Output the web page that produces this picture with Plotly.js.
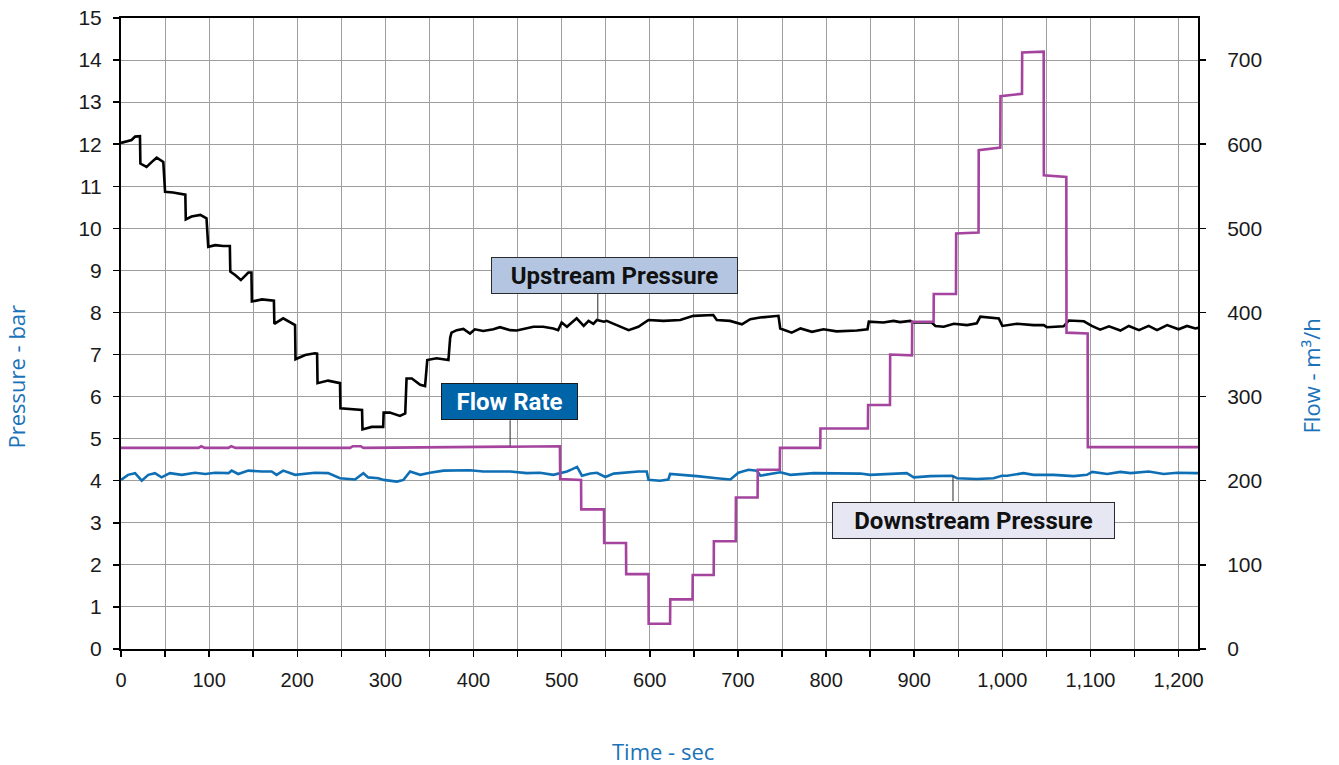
<!DOCTYPE html>
<html>
<head>
<meta charset="utf-8">
<script src="https://cdn.plot.ly/plotly-3.0.1.min.js"></script>
<style>
  html, body { margin: 0; padding: 0; background: #ffffff; }
  #chart { width: 1339px; height: 765px; }
</style>
</head>
<body>
<div id="chart"></div>
<script>
// Upstream pressure (bar) against time (s)
const upTime = [
  0, 6, 12, 16, 21.5, 22, 29, 35, 40.5, 48,
  50, 59, 67, 73, 73.5, 80, 90, 97, 99, 107,
  116, 123.5, 124, 129.5, 136, 144.5, 148, 148.5, 160, 171,
  173.5, 174, 184, 197.5, 198, 209, 220, 222.5, 223, 235,
  246.5, 248.5, 249, 262, 273.5, 274, 284.5, 297.5, 298, 305,
  316.5, 322.5, 324, 330, 339.5, 345, 347.5, 358, 371.5, 373.5,
  375, 381, 388.5, 396, 401.5, 411, 422.5, 430, 441.5, 449,
  460.5, 468, 479, 490.5, 496, 500, 506, 517, 525, 530.5,
  536, 540, 548, 551, 562.5, 576, 587, 598.5, 615.5, 634.5,
  649.5, 665, 672, 676, 691, 704.5, 714, 725, 736.5, 746,
  748, 761, 771, 784, 797, 812, 835, 847, 848.5, 865,
  876.5, 884, 895.5, 899.5, 920, 924, 933.5, 945, 960, 971,
  975, 986.5, 996, 1000, 1016.5, 1035.5, 1047, 1050.5, 1069.5, 1075.5,
  1092.5, 1101.5, 1111, 1121, 1134, 1143.5, 1155, 1166, 1175.5, 1187,
  1200, 1209.5, 1219, 1224
];
const upPressure = [
  12.03, 12.06, 12.10, 12.18, 12.19, 11.54, 11.46, 11.58, 11.68, 11.58,
  10.87, 10.85, 10.82, 10.80, 10.21, 10.28, 10.32, 10.24, 9.56, 9.60,
  9.58, 9.58, 8.97, 8.89, 8.77, 8.95, 8.95, 8.26, 8.31, 8.30,
  8.28, 7.73, 7.86, 7.70, 6.89, 6.99, 7.03, 7.02, 6.32, 6.38,
  6.32, 6.32, 5.72, 5.70, 5.68, 5.22, 5.28, 5.28, 5.62, 5.62,
  5.54, 5.60, 6.43, 6.43, 6.28, 6.25, 6.87, 6.91, 6.87, 7.40,
  7.52, 7.58, 7.61, 7.50, 7.60, 7.56, 7.60, 7.65, 7.58, 7.57,
  7.62, 7.66, 7.66, 7.62, 7.58, 7.76, 7.66, 7.86, 7.68, 7.80,
  7.73, 7.82, 7.78, 7.80, 7.70, 7.58, 7.66, 7.82, 7.80, 7.82,
  7.92, 7.93, 7.94, 7.82, 7.80, 7.72, 7.84, 7.88, 7.90, 7.92,
  7.62, 7.52, 7.62, 7.54, 7.60, 7.55, 7.57, 7.60, 7.78, 7.76,
  7.80, 7.77, 7.80, 7.76, 7.76, 7.68, 7.66, 7.73, 7.70, 7.74,
  7.90, 7.87, 7.86, 7.68, 7.73, 7.70, 7.70, 7.65, 7.67, 7.81,
  7.79, 7.68, 7.59, 7.67, 7.57, 7.68, 7.58, 7.68, 7.58, 7.70,
  7.60, 7.68, 7.62, 7.64
];

// Downstream pressure (bar) against time (s)
const downTime = [
  0, 8, 16, 23.5, 31, 38.5, 46, 55.5, 69, 84,
  95.5, 107, 122, 125.5, 133, 144.5, 160, 171, 176.5, 184,
  197.5, 220, 235, 248.5, 265.5, 275, 280.5, 292, 298, 313,
  320.5, 328, 339.5, 350.5, 366, 381, 396, 411, 426.5, 441.5,
  460.5, 475.5, 490.5, 498, 506, 511.5, 517.5, 523, 532.5, 540,
  549.5, 559, 574, 587, 596.5, 598.5, 611.5, 621, 623, 638.5,
  653.5, 676, 691.5, 700.5, 712, 721.5, 725.5, 748, 759.5, 786,
  812, 839, 850, 869, 891.5, 899.5, 918.5, 943, 948.5, 971,
  990, 999.5, 1005.5, 1024, 1035.5, 1058, 1073.5, 1081, 1096, 1102,
  1119, 1134, 1145.5, 1166, 1183, 1198.5, 1219, 1224
];
const downPressure = [
  4.02, 4.14, 4.18, 4.00, 4.14, 4.18, 4.08, 4.18, 4.14, 4.19,
  4.16, 4.19, 4.18, 4.24, 4.16, 4.24, 4.22, 4.22, 4.14, 4.24,
  4.14, 4.19, 4.18, 4.06, 4.03, 4.18, 4.08, 4.06, 4.02, 3.98,
  4.02, 4.22, 4.14, 4.19, 4.24, 4.24, 4.25, 4.22, 4.22, 4.22,
  4.18, 4.19, 4.14, 4.18, 4.22, 4.27, 4.33, 4.12, 4.17, 4.19,
  4.09, 4.17, 4.20, 4.22, 4.22, 4.02, 4.00, 4.03, 4.16, 4.14,
  4.11, 4.06, 4.03, 4.19, 4.26, 4.24, 4.12, 4.20, 4.14, 4.18,
  4.17, 4.17, 4.14, 4.16, 4.18, 4.08, 4.11, 4.12, 4.06, 4.04,
  4.06, 4.12, 4.12, 4.18, 4.14, 4.14, 4.11, 4.11, 4.14, 4.21,
  4.16, 4.21, 4.18, 4.22, 4.16, 4.19, 4.18, 4.18
];

// Flow rate (m³/h) against time (s)
const flowTime = [
  0, 88, 91, 95, 122, 125, 130, 260, 263, 272,
  275, 410, 440, 470, 498, 498.3, 522, 522.2, 548, 548.2,
  573, 573.2, 598.5, 598.7, 623, 623.2, 648.5, 648.7, 672.5, 672.7,
  697.5, 697.7, 722.3, 722.5, 747.5, 747.7, 793.4, 793.6, 847.5, 847.7,
  872.5, 872.7, 897.5, 897.7, 922, 922.2, 947.4, 947.6, 973, 973.2,
  997.7, 997.9, 1022.3, 1022.5, 1046.9, 1047.1, 1072.6, 1072.8, 1096.8, 1097,
  1150, 1224
];
const flowRate = [
  239, 239, 241, 239, 239, 241, 239, 239, 241, 241,
  239, 240, 241, 241, 241, 202, 201, 166, 166, 126,
  126, 89, 89, 30, 30, 59, 59, 88, 88, 128,
  128, 180, 180, 213, 213, 239, 239, 262, 262, 290,
  290, 350, 349, 389, 389, 422, 422, 494, 495, 593,
  596, 657, 660, 709, 710, 563, 561, 376, 375, 240,
  240, 240
];

// Axis titles
const xTitle = 'Time - sec';
const yTitle = 'Pressure - bar';
const y2Title = 'Flow - m³/h';

// Callout texts and where their leader lines meet the curves (time, s)
const labelUp = 'Upstream Pressure';
const labelFlow = 'Flow Rate';
const labelDown = 'Downstream Pressure';
const pointUpTime = 541;
const pointFlowTime = 441.5;
const pointDownTime = 944;

// linear read-off of a drawn series at time t
function valueAt(ts, vs, t) {
  for (let i = 1; i < ts.length; i++) {
    if (t <= ts[i]) {
      const f = (t - ts[i - 1]) / (ts[i] - ts[i - 1]);
      return vs[i - 1] + f * (vs[i] - vs[i - 1]);
    }
  }
  return vs[vs.length - 1];
}

const gridColor = '#9e9e9e';
const titleBlue = '#1a72b8';
const tickFont = { family: 'Liberation Sans, Arial, sans-serif', size: 21, color: '#1a1a1a' };
const titleFont = { family: 'Open Sans, sans-serif', size: 22, color: titleBlue };
const boxFont = { family: 'Roboto, sans-serif', size: 24, weight: 700 };

const traces = [
  {
    x: downTime, y: downPressure, type: 'scatter', mode: 'lines',
    name: labelDown, yaxis: 'y',
    line: { color: '#0f6fb5', width: 2.6 }
  },
  {
    x: upTime, y: upPressure, type: 'scatter', mode: 'lines',
    name: labelUp, yaxis: 'y',
    line: { color: '#000000', width: 2.6 }
  },
  {
    x: flowTime, y: flowRate, type: 'scatter', mode: 'lines',
    name: labelFlow, yaxis: 'y2',
    line: { color: '#a4449e', width: 2.6 }
  }
];

const leader = (t, val, yref, len) => ({
  type: 'line', xref: 'x', yref: yref,
  ysizemode: 'pixel', yanchor: val,
  x0: t, x1: t, y0: 0, y1: len,
  line: { color: '#2a2a2a', width: 1 }
});

const layout = {
  width: 1339, height: 765,
  margin: { l: 121, r: 141, t: 18, b: 116, pad: 0 },
  paper_bgcolor: '#ffffff', plot_bgcolor: '#ffffff',
  showlegend: false,
  xaxis: {
    range: [0, 1222], tickmode: 'linear', tick0: 0, dtick: 100,
    ticks: 'outside', ticklen: 6, tickwidth: 1.5, tickcolor: '#000',
    showline: true, linecolor: '#000', linewidth: 2, mirror: true,
    showgrid: true, gridcolor: gridColor, gridwidth: 1,
    minor: { dtick: 50, showgrid: true, gridcolor: gridColor, gridwidth: 1,
             ticks: 'outside', ticklen: 6, tickwidth: 1.5, tickcolor: '#000' },
    zeroline: false, separatethousands: true,
    tickfont: { family: 'Liberation Sans Narrow, Liberation Sans, sans-serif', size: 20, color: '#1a1a1a' },
    ticklabelstandoff: 6,
    automargin: false
  },
  yaxis: {
    range: [0, 15], tickmode: 'linear', tick0: 0, dtick: 1,
    ticks: 'outside', ticklen: 6, tickwidth: 1.5, tickcolor: '#000',
    showline: true, linecolor: '#000', linewidth: 2,
    showgrid: true, gridcolor: gridColor, gridwidth: 1,
    zeroline: false, tickfont: tickFont, ticklabelstandoff: 7,
    automargin: false
  },
  yaxis2: {
    overlaying: 'y', side: 'right',
    range: [0, 750], tickmode: 'linear', tick0: 0, dtick: 100,
    ticks: 'outside', ticklen: 6, tickwidth: 1.5, tickcolor: '#000',
    showline: true, linecolor: '#000', linewidth: 2,
    showgrid: false, zeroline: false, tickfont: tickFont, ticklabelstandoff: 17,
    automargin: false
  },
  shapes: [
    leader(pointUpTime, valueAt(upTime, upPressure, pointUpTime), 'y', 27),
    leader(pointFlowTime, valueAt(flowTime, flowRate, pointFlowTime), 'y2', 26),
    leader(pointDownTime, valueAt(downTime, downPressure, pointDownTime), 'y', -25)
  ],
  annotations: [
    {
      xref: 'x', yref: 'y', x: 560, y: 8.88, text: labelUp, showarrow: false,
      xanchor: 'center', yanchor: 'middle',
      bgcolor: '#b3c5e1', bordercolor: '#2b2b2b', borderwidth: 1, borderpad: 3,
      width: 239, height: 29,
      font: Object.assign({ color: '#111111' }, boxFont)
    },
    {
      xref: 'x', yref: 'y', x: 440.6, y: 5.88, text: labelFlow, showarrow: false,
      xanchor: 'center', yanchor: 'middle',
      bgcolor: '#0064a8', bordercolor: '#1b1b1b', borderwidth: 1, borderpad: 3,
      width: 129, height: 29,
      font: Object.assign({ color: '#ffffff' }, boxFont)
    },
    {
      xref: 'x', yref: 'y', x: 967.1, y: 3.06, text: labelDown, showarrow: false,
      xanchor: 'center', yanchor: 'middle',
      bgcolor: '#e7e7f3', bordercolor: '#2b2b2b', borderwidth: 1, borderpad: 3,
      width: 275, height: 29,
      font: Object.assign({ color: '#111111' }, boxFont)
    },
    {
      xref: 'paper', yref: 'paper', x: 0.503, y: 0, yshift: -102,
      text: xTitle, showarrow: false, xanchor: 'center', yanchor: 'middle',
      height: 24, borderpad: 0, font: titleFont
    },
    {
      xref: 'paper', yref: 'paper', x: 0, xshift: -106, y: 0.5, yshift: -43,
      text: yTitle, textangle: -90, showarrow: false,
      xanchor: 'center', yanchor: 'middle', font: titleFont
    },
    {
      xref: 'paper', yref: 'paper', x: 1, xshift: 112, y: 0.5, yshift: -43,
      text: y2Title, textangle: -90, showarrow: false,
      xanchor: 'center', yanchor: 'middle', font: titleFont
    }
  ]
};

Plotly.newPlot('chart', traces, layout, { displayModeBar: false, staticPlot: true });
</script>
</body>
</html>
